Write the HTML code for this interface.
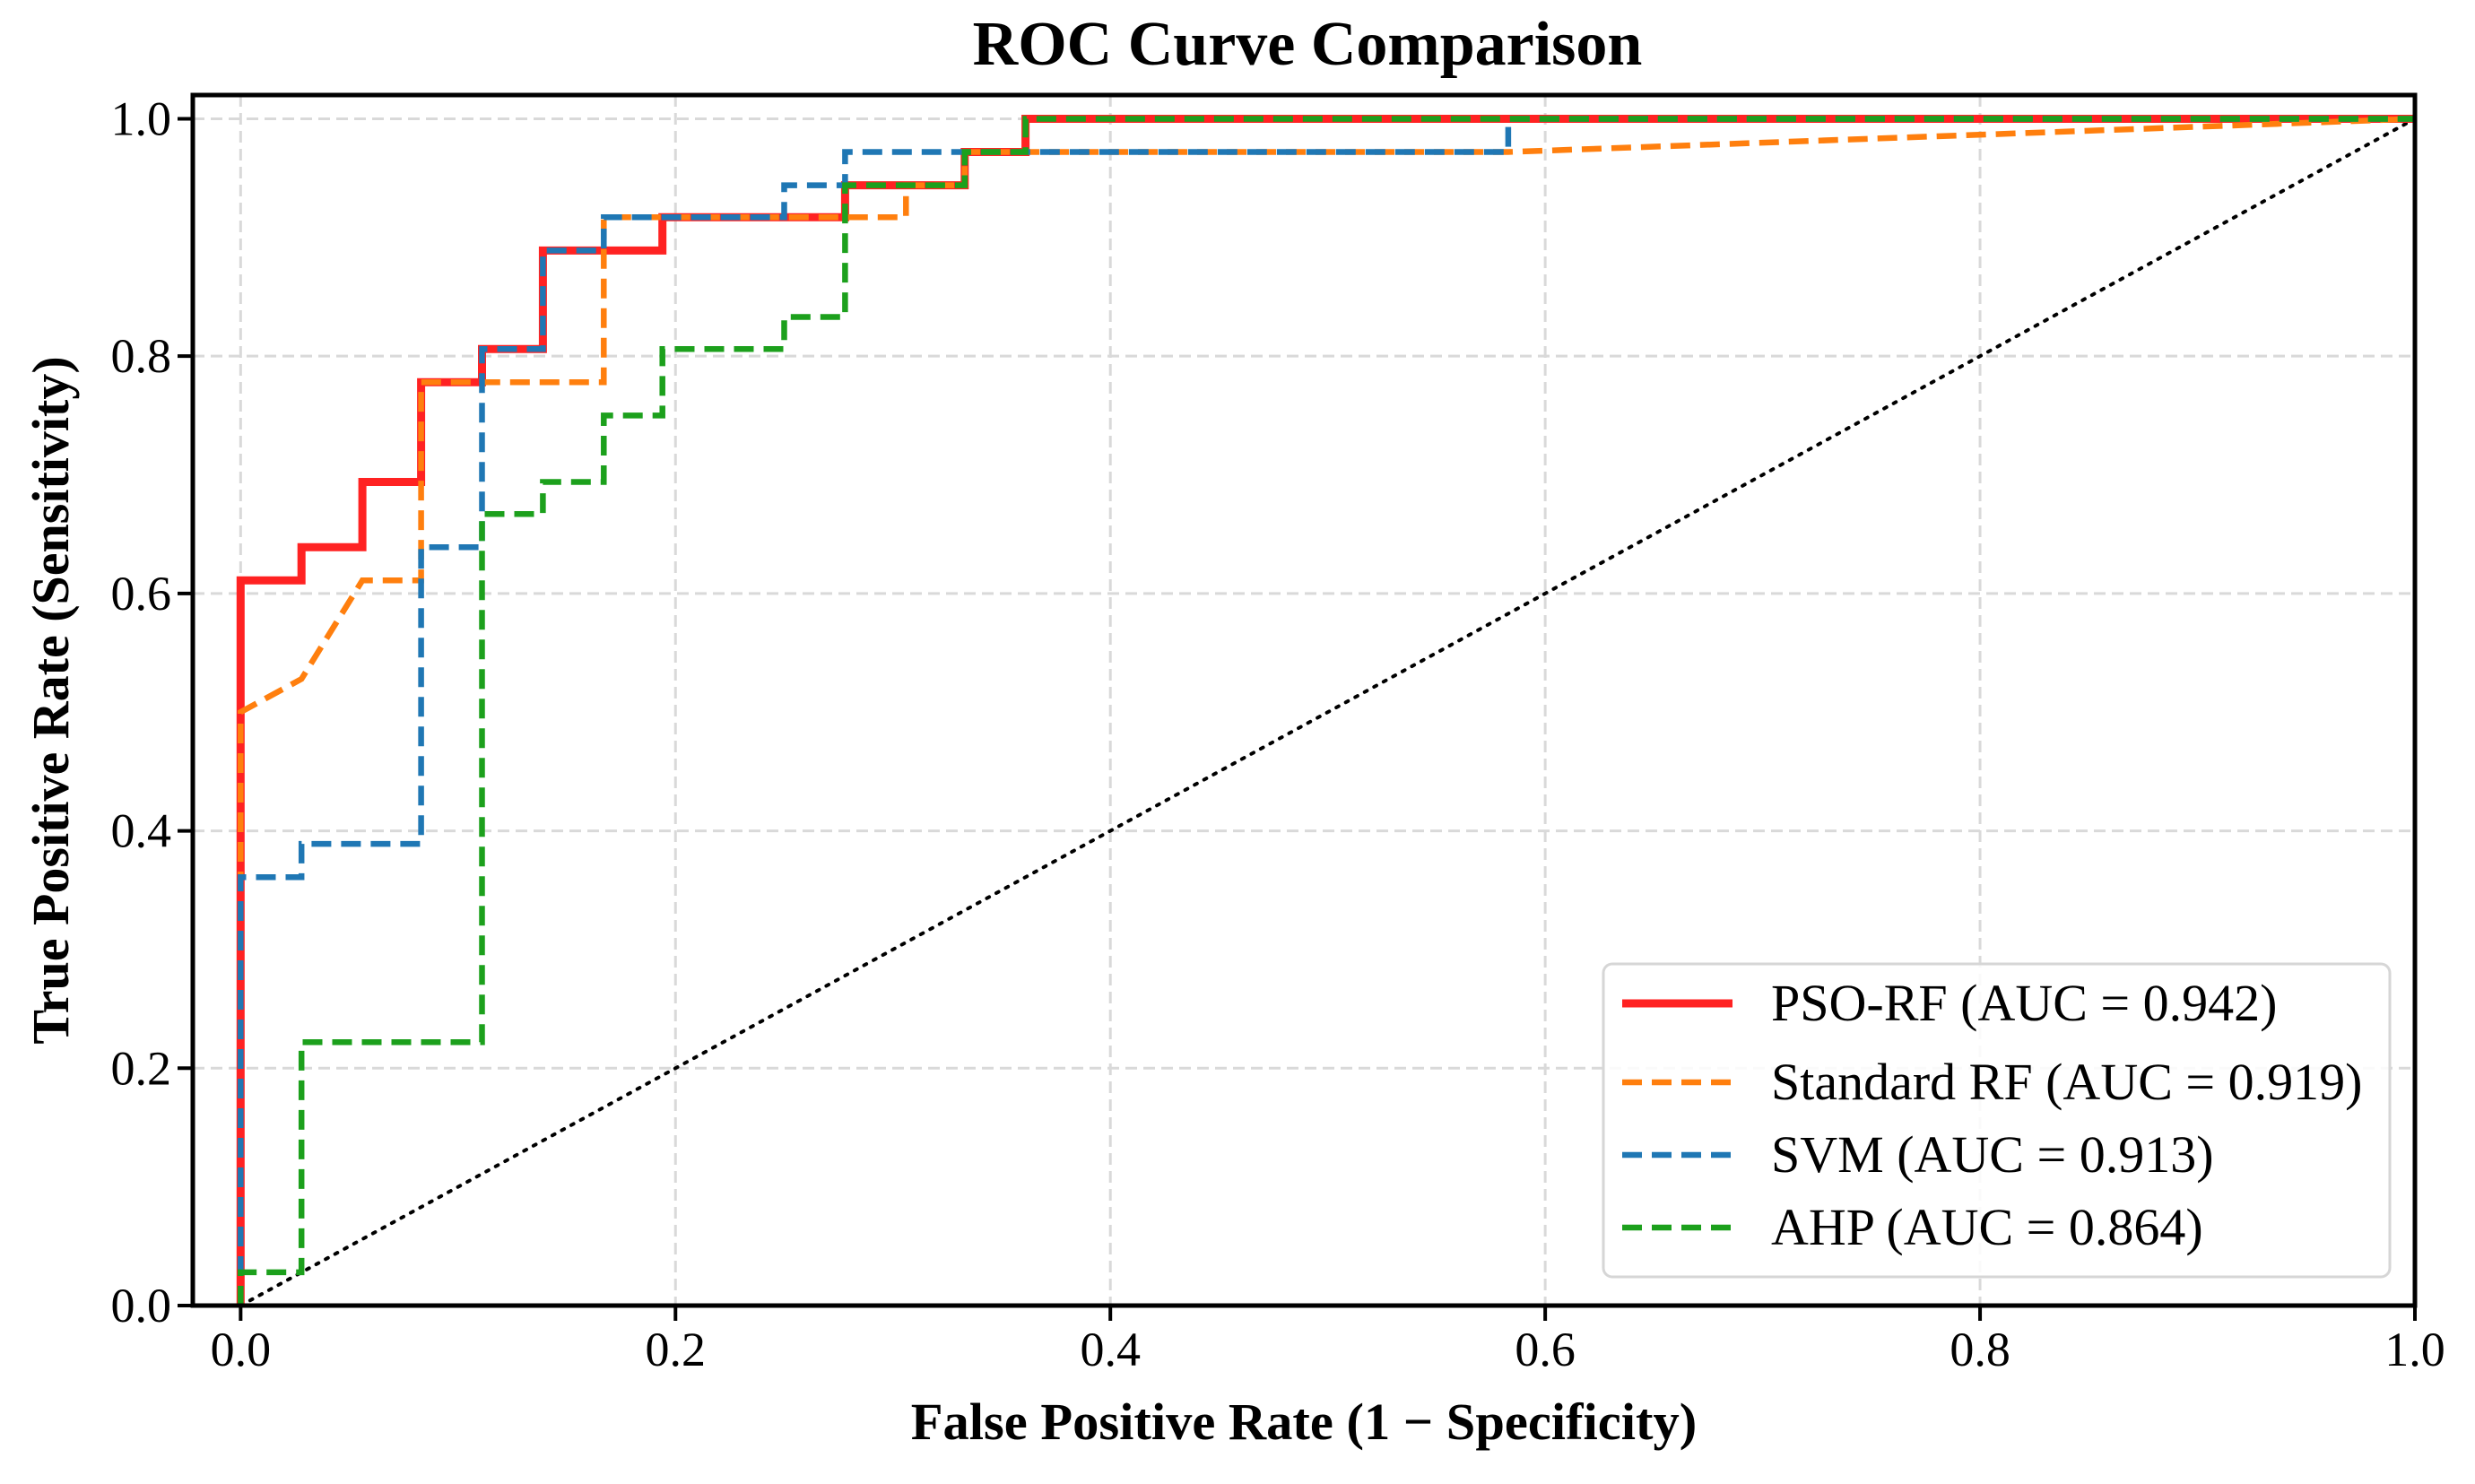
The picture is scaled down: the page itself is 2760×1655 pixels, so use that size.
<!DOCTYPE html>
<html><head><meta charset="utf-8"><style>
html,body{margin:0;padding:0;background:#fff}
svg{display:block;font-family:"Liberation Serif",serif}
</style></head><body>
<svg id="chart" width="2760" height="1655" viewBox="0 0 2760 1655" xmlns="http://www.w3.org/2000/svg">
<text x="1458" y="72" text-anchor="middle" font-size="70" font-weight="bold">ROC Curve Comparison</text>
<g id="grid"></g>
<g id="series"></g>
<g id="axes"></g>
<text x="1454" y="1605" text-anchor="middle" font-size="58.5" font-weight="bold">False Positive Rate (1 − Specificity)</text>
<text transform="translate(76,781) rotate(-90)" text-anchor="middle" font-size="58" font-weight="bold">True Positive Rate (Sensitivity)</text>
<g id="legend"></g>
</svg>
<script>
const xTicks = [0.0, 0.2, 0.4, 0.6, 0.8, 1.0];
const yTicks = [0.0, 0.2, 0.4, 0.6, 0.8, 1.0];
const seriesNames = ["PSO-RF (AUC = 0.942)", "Standard RF (AUC = 0.919)", "SVM (AUC = 0.913)", "AHP (AUC = 0.864)"];
const psoX = [0,0,0.028,0.028,0.056,0.056,0.083,0.083,0.111,0.111,0.139,0.139,0.194,0.194,0.278,0.278,0.333,0.333,0.361,0.361,1];
const psoY = [0,0.611,0.611,0.639,0.639,0.694,0.694,0.778,0.778,0.806,0.806,0.889,0.889,0.917,0.917,0.944,0.944,0.972,0.972,1,1];
const rfX = [0,0,0.028,0.056,0.083,0.083,0.167,0.167,0.306,0.306,0.333,0.333,0.583,1];
const rfY = [0,0.5,0.528,0.611,0.611,0.778,0.778,0.917,0.917,0.944,0.944,0.972,0.972,1];
const svmX = [0,0,0.028,0.028,0.083,0.083,0.111,0.111,0.139,0.139,0.167,0.167,0.25,0.25,0.278,0.278,0.583,0.583,1];
const svmY = [0,0.361,0.361,0.389,0.389,0.639,0.639,0.806,0.806,0.889,0.889,0.917,0.917,0.944,0.944,0.972,0.972,1,1];
const ahpX = [0,0,0.028,0.028,0.111,0.111,0.139,0.139,0.167,0.167,0.194,0.194,0.25,0.25,0.278,0.278,0.333,0.333,0.361,0.361,1];
const ahpY = [0,0.028,0.028,0.222,0.222,0.667,0.667,0.694,0.694,0.75,0.75,0.806,0.806,0.833,0.833,0.944,0.944,0.972,0.972,1,1];

const NS="http://www.w3.org/2000/svg";
const L=215,R=2693,T=106,B=1456, xmin=-0.022,xmax=1.0,ymin=0,ymax=1.02;
const sx=v=>L+(v-xmin)/(xmax-xmin)*(R-L);
const sy=v=>B-(v-ymin)/(ymax-ymin)*(B-T);
function mk(tag,attrs,parent){const e=document.createElementNS(NS,tag);for(const k in attrs)e.setAttribute(k,attrs[k]);parent.appendChild(e);return e;}
const grid=document.getElementById('grid'),axes=document.getElementById('axes'),ser=document.getElementById('series'),leg=document.getElementById('legend');
xTicks.forEach(t=>{
  const g=mk('line',{x1:sx(t),x2:sx(t),y1:T,y2:B,stroke:'#d9d9d9','stroke-width':3,'stroke-dasharray':'13,7'},grid);
  
  
  const tk=mk('line',{x1:sx(t),x2:sx(t),y1:B,y2:B+17,stroke:'#000','stroke-width':4},axes);
  
  
  const tx=mk('text',{x:sx(t),y:B+67,'text-anchor':'middle','font-size':54},axes);
  
  
  tx.textContent=t.toFixed(1);
});
yTicks.forEach(t=>{
  const g=mk('line',{x1:L,x2:R,y1:sy(t),y2:sy(t),stroke:'#d9d9d9','stroke-width':3,'stroke-dasharray':'13,7'},grid);
  
  
  const tk=mk('line',{x1:L-17,x2:L,y1:sy(t),y2:sy(t),stroke:'#000','stroke-width':4},axes);
  
  
  const tx=mk('text',{x:L-24,y:sy(t)+18,'text-anchor':'end','font-size':54},axes);
  
  
  tx.textContent=t.toFixed(1);
});
const diag=mk('line',{x1:sx(0),y1:sy(0),x2:sx(1),y2:sy(1),stroke:'#000','stroke-width':4,'stroke-dasharray':'3,9','stroke-linecap':'round'},ser);


const specs=[[psoX,psoY,'#ff2222',9,null,'pso-rf-curve'],[rfX,rfY,'#ff7f0e',6.5,'22,11','standard-rf-curve'],[svmX,svmY,'#1f77b4',6.5,'22,11','svm-curve'],[ahpX,ahpY,'#1ca01c',6.5,'22,11','ahp-curve']];
specs.forEach(([xs,ys,c,w,d,n])=>{
  const pts=xs.map((x,i)=>sx(x).toFixed(1)+','+sy(ys[i]).toFixed(1)).join(' ');
  const a={points:pts,fill:'none',stroke:c,'stroke-width':w,'stroke-linejoin':'miter'};
  if(d)a['stroke-dasharray']=d;
  const p=mk('polyline',a,ser);
  
  
});
const frame=mk('rect',{x:L,y:T,width:R-L,height:B-T,fill:'none',stroke:'#000','stroke-width':5},axes);


const box=mk('rect',{x:1788,y:1075,width:877,height:349,rx:10,fill:'#fff','fill-opacity':0.85,stroke:'#d6d6d6','stroke-width':3},leg);


const ly=[1119,1207,1288,1369];
specs.forEach((s,i)=>{
  const a={x1:1809,x2:1932,y1:ly[i],y2:ly[i],stroke:s[2],'stroke-width':s[3]};
  if(s[4])a['stroke-dasharray']=s[4];
  const ln=mk('line',a,leg);
  
  
  const tx=mk('text',{x:1975,y:ly[i]+19,'font-size':58},leg);
  
  
  tx.textContent=seriesNames[i];
});
</script>
</body></html>
